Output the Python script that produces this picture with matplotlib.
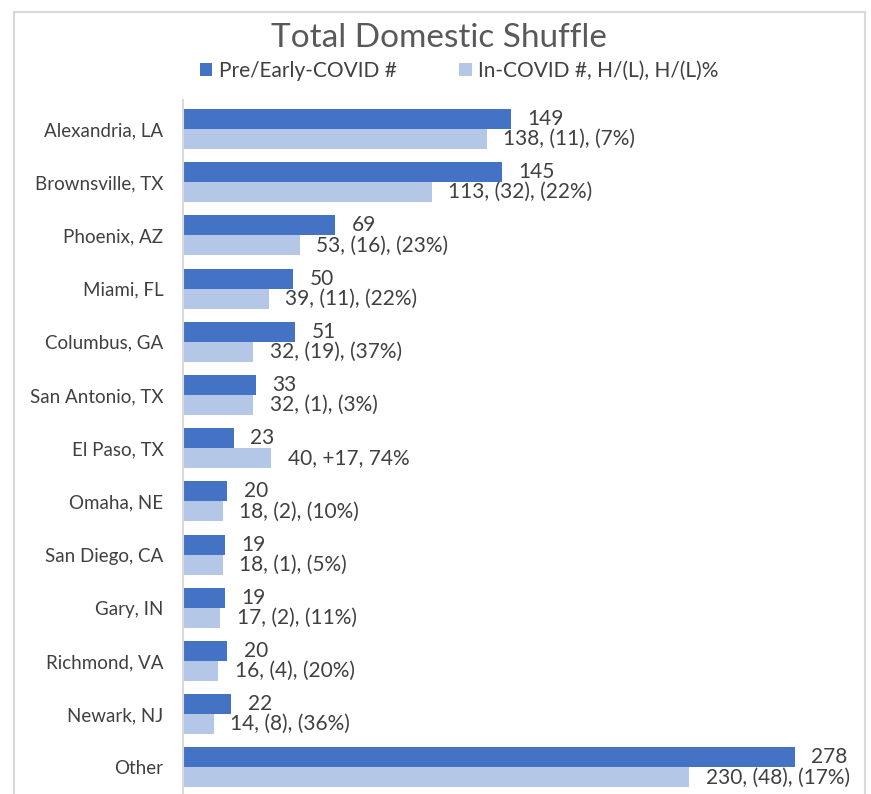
import matplotlib.pyplot as plt
import matplotlib.patches as patches
import numpy as np

plt.rcParams['font.family'] = ['Lato', 'DejaVu Sans']

cities = ["Alexandria, LA", "Brownsville, TX", "Phoenix, AZ", "Miami, FL",
          "Columbus, GA", "San Antonio, TX", "El Paso, TX", "Omaha, NE",
          "San Diego, CA", "Gary, IN", "Richmond, VA", "Newark, NJ", "Other"]
pre_covid = [149, 145, 69, 50, 51, 33, 23, 20, 19, 19, 20, 22, 278]
in_covid = [138, 113, 53, 39, 32, 32, 40, 18, 18, 17, 16, 14, 230]
in_labels = ["138, (11), (7%)", "113, (32), (22%)", "53, (16), (23%)",
             "39, (11), (22%)", "32, (19), (37%)", "32, (1), (3%)",
             "40, +17, 74%", "18, (2), (10%)", "18, (1), (5%)",
             "17, (2), (11%)", "16, (4), (20%)", "14, (8), (36%)",
             "230, (48), (17%)"]

dark = "#4472C4"
light = "#B4C7E7"
txt = "#404040"

fig = plt.figure(figsize=(8.71, 7.94), dpi=100)
# chart frame (bottom edge cut off like the screenshot)
fig.patches.append(patches.Rectangle((14 / 871, -0.05), (865 - 14) / 871, 1.05 - 12 / 794,
                                     transform=fig.transFigure, fill=False,
                                     edgecolor="#D9D9D9", linewidth=1.5))

ax = fig.add_axes([183 / 871, 0, (860 - 183) / 871, (794 - 100) / 794])
y = np.arange(len(cities))
h = 0.376
b1 = ax.barh(y - h / 2, pre_covid, height=h, color=dark)
b2 = ax.barh(y + h / 2, in_covid, height=h, color=light)
ax.bar_label(b1, labels=[str(v) for v in pre_covid], padding=12, fontsize=15, color=txt)
ax.bar_label(b2, labels=in_labels, padding=12, fontsize=15, color=txt)

ax.set_xlim(0, 307.7)
ax.set_ylim(12.5, -0.545)
ax.set_yticks(y)
ax.set_yticklabels(cities, fontsize=13.5, color=txt)
ax.tick_params(axis="y", length=0, pad=14)
ax.set_xticks([])
for s in ["top", "right", "bottom"]:
    ax.spines[s].set_visible(False)
ax.spines["left"].set_color("#D9D9D9")
ax.spines["left"].set_linewidth(1.5)

fig.text(439 / 871, 1 - 38 / 794, "Total Domestic Shuffle", ha="center", va="center",
         fontsize=24, color="#595959")
fig.legend([b1, b2], ["Pre/Early-COVID #", "In-COVID #, H/(L), H/(L)%"],
           loc="center", bbox_to_anchor=(459 / 871, 1 - 71 / 794), ncol=2,
           frameon=False, fontsize=15, handlelength=0.6, handleheight=0.6,
           columnspacing=3.0, handletextpad=0.3, labelcolor=txt)

fig.savefig("out.png", dpi=100)
